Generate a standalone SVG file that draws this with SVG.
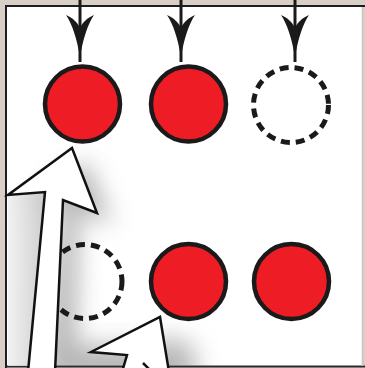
<svg xmlns="http://www.w3.org/2000/svg" width="365" height="368" viewBox="0 0 365 368">
  <style>
    .red { fill: #ee1c25; stroke: #1a1a1a; stroke-width: 4.5; }
    .empty { fill: none; stroke: #1a1a1a; stroke-width: 5; stroke-dasharray: 9 6; }
    .shaft { stroke: #1a1a1a; stroke-width: 3; fill: none; }
    .head { fill: #1a1a1a; }
    .big { fill: #ffffff; stroke: #111; stroke-width: 2.5; stroke-linejoin: miter; }
    .edge { fill: none; stroke: #111; stroke-width: 2.5; stroke-linejoin: miter; }
  </style>
  <defs>
    <path id="ah" d="M -14,15 C -8,24 -3,38 0,58 C 3,38 8,24 14,15 C 7,18 3,22 0,28 C -3,22 -7,18 -14,15 Z"/>
    <filter id="blur" x="-50%" y="-50%" width="200%" height="200%">
      <feGaussianBlur stdDeviation="12"/>
    </filter>
    <clipPath id="inner"><rect x="7" y="7" width="355" height="359"/></clipPath>
    <linearGradient id="leftg" x1="0" y1="0" x2="1" y2="0">
      <stop offset="0" stop-color="#eeeeee"/>
      <stop offset="1" stop-color="#c4c4c4"/>
    </linearGradient>
  </defs>

  <!-- frame -->
  <rect x="0" y="0" width="365" height="368" fill="#d8d0c6"/>
  <rect x="7" y="7" width="355" height="359" fill="#ffffff"/>
  <line x1="5" y1="6" x2="365" y2="6" stroke="#1e1e1e" stroke-width="2"/>
  <line x1="6" y1="5" x2="6" y2="368" stroke="#1e1e1e" stroke-width="2"/>
  <line x1="6" y1="366.5" x2="365" y2="366.5" stroke="#2a2a2a" stroke-width="2"/>
  <line x1="362.5" y1="7" x2="362.5" y2="366" stroke="#c8c4bf" stroke-width="1.5"/>

  <!-- shadows -->
  <g id="shadows" clip-path="url(#inner)">
    <g filter="url(#blur)" fill="#6e6e6e" opacity="0.5">
      <polygon points="86,160 113,225 79,212 75,380 42,380 59,204 22,207"/>
      <polygon points="175,332 186,380 110,380"/>
      <rect x="60" y="345" width="135" height="40"/>
    </g>
    <polygon points="8,195 45,192 28,368 8,368" fill="url(#leftg)" opacity="0.8"/>
  </g>

  <!-- nodes -->
  <g id="node-top-1"><circle class="red" cx="82.5" cy="104" r="37.5"/></g>
  <g id="node-top-2"><circle class="red" cx="188.5" cy="104" r="37.5"/></g>
  <g id="node-top-3"><circle class="empty" cx="291" cy="105" r="37.5"/></g>
  <g id="node-bottom-1"><circle class="empty" cx="85" cy="281.5" r="37"/></g>
  <g id="node-bottom-2"><circle class="red" cx="188.5" cy="281.5" r="37.5"/></g>
  <g id="node-bottom-3"><circle class="red" cx="291.5" cy="281.5" r="37.5"/></g>

  <!-- connectors -->
  <g id="connectors">
    <line class="shaft" x1="80" y1="0" x2="80" y2="62"/>
    <use href="#ah" class="head" x="80" y="0"/>
    <line class="shaft" x1="181" y1="0" x2="181" y2="62"/>
    <use href="#ah" class="head" x="181" y="0"/>
    <line class="shaft" x1="295" y1="0" x2="295" y2="62"/>
    <use href="#ah" class="head" x="295" y="0"/>

    <polygon class="big" points="72,148 97,213 63,200 55,372 28,372 45,192 8,195"/>

    <polygon points="160,317 169,372 122,372 127,355 91,352" fill="#ffffff"/>
    <polyline class="edge" points="169,372 160,317 91,352 127,355 122,372"/>
    <line class="edge" x1="143" y1="363" x2="150" y2="370"/>
  </g>
</svg>
